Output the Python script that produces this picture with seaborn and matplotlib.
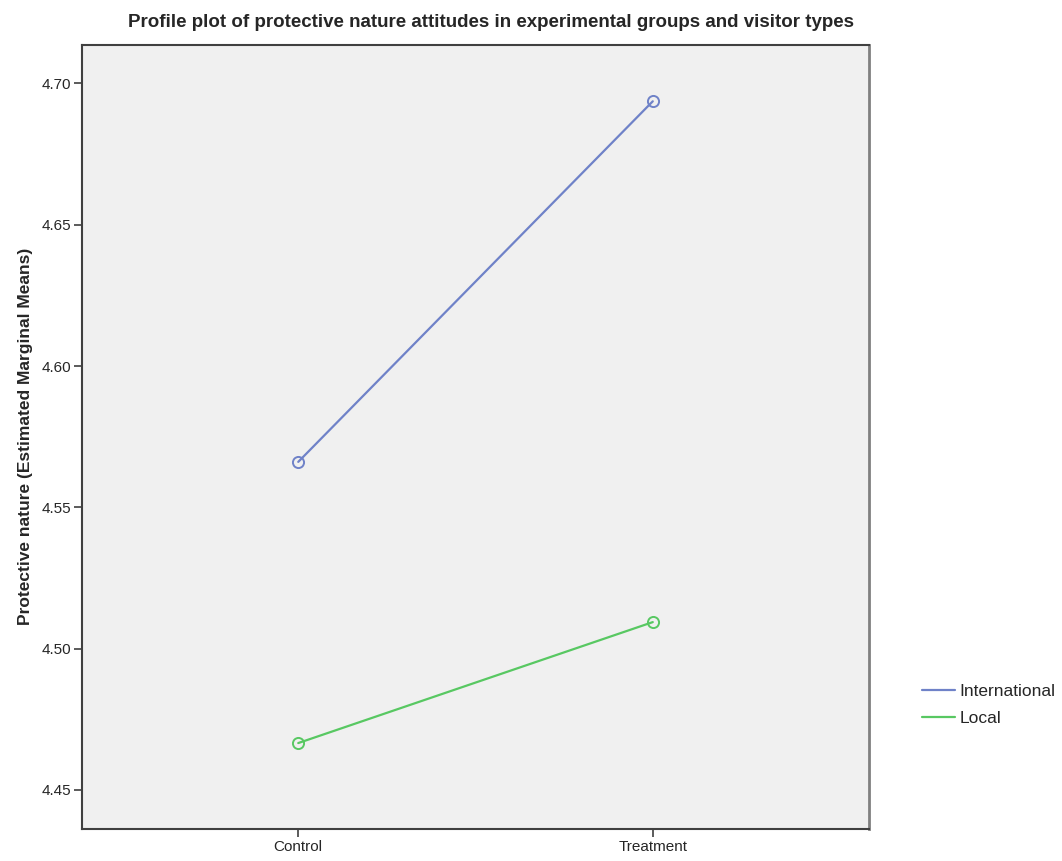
import pandas as pd
import seaborn as sns
import matplotlib.pyplot as plt

groups = ['Control', 'Treatment']
visitor_types = ['International', 'Local']
international_means = [4.5661, 4.6937]
local_means = [4.4666, 4.5094]
colors = ['#6f82c8', '#58c862']

df = pd.DataFrame({
    'group': groups * 2,
    'visitor': [visitor_types[0]] * 2 + [visitor_types[1]] * 2,
    'mean': international_means + local_means,
})

sns.set_style('white')
plt.rcParams['font.family'] = ['Liberation Sans', 'DejaVu Sans']

fig = plt.figure(figsize=(10.62, 8.61), dpi=100)
ax = fig.add_axes([0.0772, 0.0372, 0.7411, 0.9108])
ax.set_facecolor('#f0f0f0')

sns.lineplot(data=df, x='group', y='mean', hue='visitor', palette=colors,
             marker='o', markersize=8, linewidth=1.6, ax=ax)
# 空心圆点，边框与线同色
for ln in ax.lines:
    ln.set_markerfacecolor('none')
    ln.set_markeredgecolor(ln.get_color())
    ln.set_markeredgewidth(1.4)

ax.set_xlim(-0.61, 1.61)
ax.set_ylim(4.4362, 4.7137)
ax.set_yticks([4.45, 4.50, 4.55, 4.60, 4.65, 4.70])
ax.set_yticklabels(['4.45', '4.50', '4.55', '4.60', '4.65', '4.70'])
ax.tick_params(axis='both', direction='out', length=6, width=1.2, color='#404040',
               labelsize=11, left=True, bottom=True, pad=2)
for s in ax.spines.values():
    s.set_color('#404040')
    s.set_linewidth(1.5)
ax.spines['right'].set_color('#808080')
ax.spines['right'].set_linewidth(2)

ax.set_xlabel('')
ax.set_ylabel('Protective nature (Estimated Marginal Means)', fontsize=12.5,
              fontweight='bold', labelpad=6)
ax.set_title('Profile plot of protective nature attitudes in experimental groups and visitor types',
             fontsize=13.5, fontweight='bold', pad=13, x=0.52)

handles, labels = ax.get_legend_handles_labels()
for h in handles:
    h.set_marker('')
ax.legend(handles, labels, loc='upper left', bbox_to_anchor=(1.058, 0.194),
          frameon=False, fontsize=12.5, handlelength=1.95, handletextpad=0.22,
          labelspacing=0.68, borderaxespad=0)

plt.savefig('out.png', dpi=100)
